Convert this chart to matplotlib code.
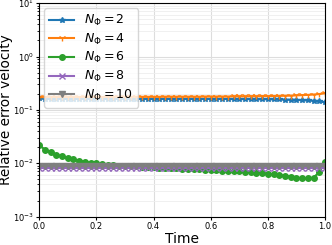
import numpy as np
import matplotlib.pyplot as plt

# tiempo
t = np.linspace(0, 1, 51)

err_n2 = [0.165, 0.161, 0.160, 0.160, 0.160, 0.160, 0.160, 0.160, 0.160, 0.160,
          0.160, 0.160, 0.160, 0.160, 0.160, 0.160, 0.160, 0.160, 0.160, 0.160,
          0.160, 0.160, 0.160, 0.160, 0.160, 0.160, 0.160, 0.160, 0.160, 0.160,
          0.160, 0.160, 0.160, 0.160, 0.159, 0.159, 0.159, 0.159, 0.158, 0.158,
          0.158, 0.157, 0.157, 0.156, 0.155, 0.154, 0.152, 0.150, 0.148, 0.145, 0.138]
err_n4 = [0.172, 0.174, 0.175, 0.175, 0.175, 0.175, 0.175, 0.175, 0.175, 0.175,
          0.175, 0.175, 0.175, 0.176, 0.176, 0.176, 0.176, 0.176, 0.176, 0.176,
          0.176, 0.176, 0.177, 0.177, 0.177, 0.177, 0.177, 0.177, 0.177, 0.178,
          0.178, 0.178, 0.178, 0.178, 0.179, 0.179, 0.179, 0.180, 0.180, 0.181,
          0.181, 0.182, 0.183, 0.184, 0.185, 0.187, 0.189, 0.191, 0.194, 0.198, 0.205]
err_n6 = [0.0220, 0.0180, 0.0160, 0.0145, 0.0134, 0.0125, 0.0118, 0.0112, 0.0107, 0.0103,
          0.0099, 0.0096, 0.0094, 0.0092, 0.0090, 0.0089, 0.0088, 0.0087, 0.0086, 0.0085,
          0.0084, 0.0083, 0.0082, 0.0081, 0.0080, 0.0079, 0.0078, 0.0077, 0.0077, 0.0076,
          0.0075, 0.0074, 0.0073, 0.0072, 0.0071, 0.0070, 0.0069, 0.0068, 0.0066, 0.0065,
          0.0063, 0.0062, 0.0060, 0.0058, 0.0056, 0.0054, 0.0052, 0.0052, 0.0054, 0.0068, 0.0105]
err_n8 = [0.0082] * 51
err_n10 = [0.0088] * 51

plt.figure(figsize=(3.32, 2.45), dpi=100)

plt.semilogy(t, err_n2, marker='*', color='tab:blue', markersize=4, label=r'$N_\Phi = 2$')
plt.semilogy(t, err_n4, marker='1', color='tab:orange', markersize=5, label=r'$N_\Phi = 4$')
plt.semilogy(t, err_n6, marker='o', color='tab:green', markersize=4, label=r'$N_\Phi = 6$')
plt.semilogy(t, err_n8, marker='x', color='tab:purple', markersize=4, label=r'$N_\Phi = 8$')
plt.semilogy(t, err_n10, marker='v', color='tab:gray', markersize=4.5, label=r'$N_\Phi = 10$')

plt.xlim(0, 1)
plt.ylim(1e-3, 1e1)
plt.grid(True, which='major', color='#dddddd', linewidth=0.8)
plt.grid(True, which='minor', color='#eeeeee', linewidth=0.6)
plt.tick_params(which='major', labelsize=6, length=2.5, pad=1.5)
plt.tick_params(which='minor', length=1.5)
plt.xlabel("Time", fontsize=10, labelpad=0.5)
plt.ylabel("Relative error velocity", fontsize=9.8, labelpad=0)
plt.legend(loc='upper left', fontsize=9, borderaxespad=0.4, labelspacing=0.28)

plt.subplots_adjust(left=0.118, right=0.979, bottom=0.116, top=0.987)
plt.savefig("out.png", dpi=100)
